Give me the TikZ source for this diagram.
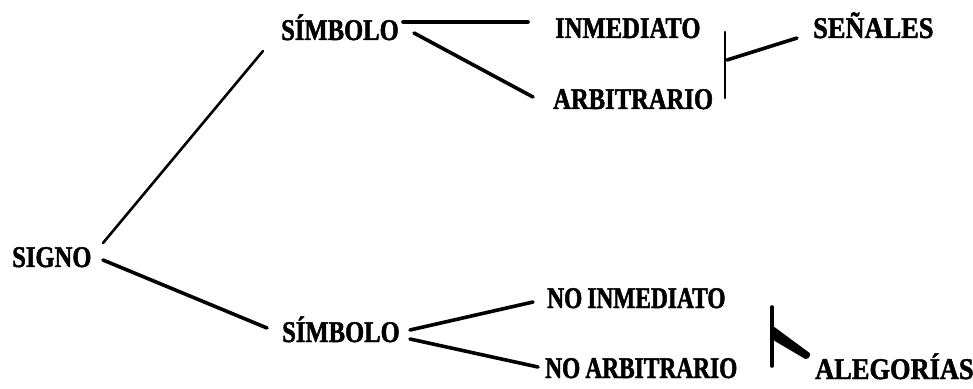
\documentclass[tikz,border=0pt]{standalone}
\usepackage{fontspec}
\setmainfont{Liberation Serif}[FakeStretch=0.82,BoldFeatures={FakeBold=1.6}]
\newfontfamily\widefont{Liberation Serif}[FakeStretch=0.88,BoldFeatures={FakeBold=1.6}]
\newfontfamily\narrowfont{Liberation Serif}[FakeStretch=0.78,BoldFeatures={FakeBold=1.6}]
\begin{document}
\begin{tikzpicture}[x=1pt,y=1pt,
  lbl/.style={anchor=base west,inner sep=0pt,font=\fontsize{30}{32}\selectfont\bfseries},
  con/.style={line width=3.6pt,line cap=round},
  thin/.style={line width=2.6pt,line cap=round}]
\useasboundingbox (0,0) rectangle (973,388);
\node[lbl] (signo) at (12,121) {SIGNO};
\node[lbl] (sa) at (281,348) {SÍMBOLO};
\node[lbl] (inm) at (555,350) {INMEDIATO};
\node[lbl] (arb) at (553,279) {ARBITRARIO};
\node[lbl] (sen) at (813,350) {\widefont\bfseries SEÑALES};
\node[lbl] (sb) at (282,46) {SÍMBOLO};
\node[lbl] (noinm) at (547,80) {\narrowfont\bfseries NO\hspace{5pt}INMEDIATO};
\node[lbl] (noarb) at (545,10) {\narrowfont\bfseries NO\hspace{5pt}ARBITRARIO};
\node[lbl] (aleg) at (815,9) {\widefont\bfseries ALEGORÍAS};
\coordinate (b1t) at (725,356);
\coordinate (b1b) at (725,290);
\coordinate (b1m) at (727,328);
\coordinate (b2t) at (772,81);
\coordinate (b2b) at (772,22);
% connectors
\draw[thin] ([shift={(91,24)}]signo.base west) -- ([shift={(-18,-11)}]sa.base west);
\draw[con] ([shift={(91,7)}]signo.base west) -- ([shift={(-15,14)}]sb.base west);
\draw[con] ([shift={(122,18)}]sa.base west) -- ([shift={(-27,16)}]inm.base west);
\draw[con] ([shift={(133,7)}]sa.base west) -- ([shift={(-20,12)}]arb.base west);
\draw[thin] (b1t) -- (b1b);
\draw[con] (b1m) -- ([shift={(-16,0)}]sen.base west);
\draw[con] ([shift={(128,12)}]sb.base west) -- ([shift={(-14,6)}]noinm.base west);
\draw[con] ([shift={(128,3)}]sb.base west) -- ([shift={(-7,11)}]noarb.base west);
\draw[con] (b2t) -- (b2b);
\fill[rounded corners=2pt] (773,62) -- (773,48) -- ([shift={(-8,19)}]aleg.base west) -- ([shift={(-4,25)}]aleg.base west) -- cycle;
\end{tikzpicture}
\end{document}
